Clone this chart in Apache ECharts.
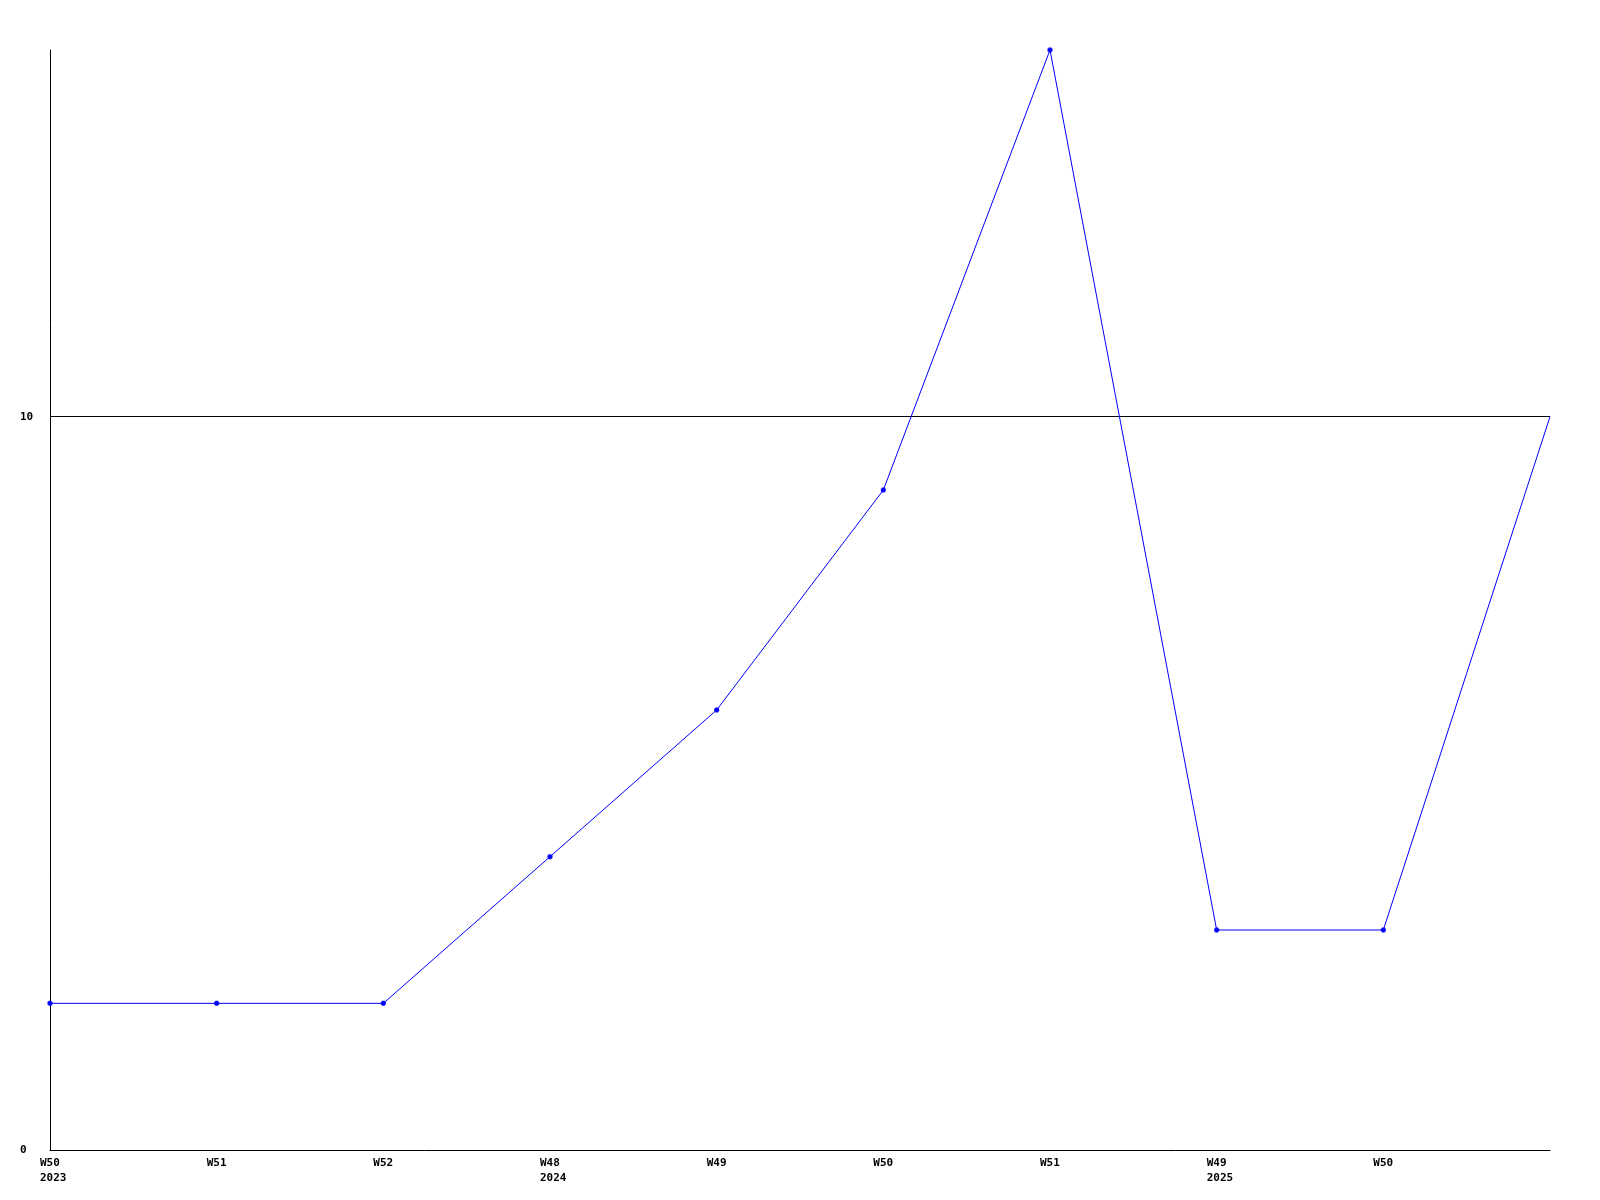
<!DOCTYPE html>
<html>
<head>
<meta charset="utf-8">
<style>
  html, body { margin: 0; padding: 0; background: #ffffff; }
  #chart { width: 1600px; height: 1200px; }
</style>
<script src="https://cdn.jsdelivr.net/npm/echarts@6.0.0/dist/echarts.min.js"></script>
</head>
<body>
<div id="chart"></div>
<script>
const weekLabels = ['W50', 'W51', 'W52', 'W48', 'W49', 'W50', 'W51', 'W49', 'W50', ''];
const yearLabels = ['2023', '', '', '2024', '', '', '', '2025', '', ''];
const values = [2, 2, 2, 4, 6, 9, 15, 3, 3, 10];
const markerShown = [true, true, true, true, true, true, true, true, true, false];
const yTickLabels = [0, 10];

const FONT = '"DejaVu Sans Mono", "Liberation Mono", monospace';
const blob = 'path://M1,0H4V1H5V4H4V5H1V4H0V1H1Z';

const chart = echarts.init(document.getElementById('chart'));
chart.setOption({
  animation: false,
  backgroundColor: '#ffffff',
  grid: { left: 50, right: 50, top: 50, bottom: 50, containLabel: false },
  xAxis: {
    type: 'category',
    data: weekLabels.map((w, i) => w + '\u200b'.repeat(i)),
    boundaryGap: false,
    axisLine: { show: true, lineStyle: { color: '#000000', width: 1 } },
    axisTick: { show: false },
    splitLine: { show: false },
    axisLabel: {
      interval: 0,
      margin: 6,
      align: 'center',
      padding: [0, 0, 0, 7],
      formatter: function (val, idx) {
        const w = weekLabels[idx];
        const y = yearLabels[idx];
        if (!w && !y) return '';
        return '{a|' + w + '}' + (y ? '\n{a|' + y + '}' : '');
      },
      rich: {
        a: {
          width: 27,
          align: 'left',
          lineHeight: 15,
          fontFamily: FONT,
          fontWeight: 'bold',
          fontSize: 11,
          color: '#000000'
        }
      }
    }
  },
  yAxis: {
    type: 'value',
    min: 0,
    max: 15,
    interval: 10,
    axisLine: { show: true, lineStyle: { color: '#000000', width: 1 } },
    axisTick: { show: false },
    splitLine: { show: false },
    axisLabel: {
      margin: 30,
      align: 'left',
      fontFamily: FONT,
      fontWeight: 'bold',
      fontSize: 11,
      color: '#000000',
      formatter: function (v) { return yTickLabels.indexOf(v) >= 0 ? String(v) : ''; }
    }
  },
  series: [{
    type: 'line',
    data: values.map((v, i) => ({ value: v, symbol: markerShown[i] ? blob : 'none' })),
    symbolSize: 5,
    showSymbol: true,
    lineStyle: { color: '#0000ff', width: 1 },
    itemStyle: { color: '#0000ff' },
    z: 3,
    markLine: {
      silent: true,
      symbol: ['none', 'none'],
      label: { show: false },
      lineStyle: { color: '#000000', width: 1, type: 'solid' },
      data: [{ yAxis: yTickLabels[1] }],
      z: 1
    }
  }]
});
</script>
</body>
</html>
